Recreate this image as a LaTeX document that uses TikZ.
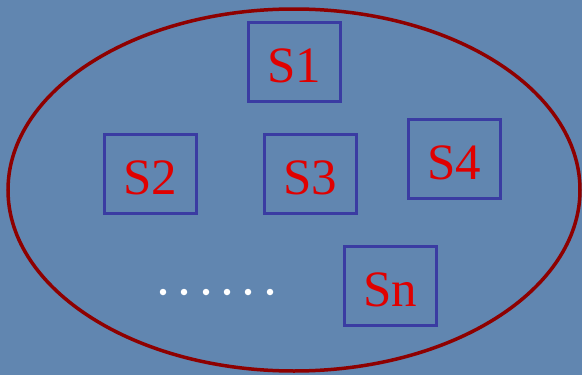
\documentclass[tikz,border=0pt]{standalone}
\usepackage{fontspec}
\setmainfont{Liberation Serif}
\definecolor{bg}{HTML}{6186B0}
\definecolor{boxc}{HTML}{3A3CA2}
\definecolor{txt}{HTML}{E00000}
\definecolor{ell}{HTML}{8E0000}
\tikzset{
  sbox/.style={draw=boxc, line width=3.8pt, minimum width=92pt, minimum height=79pt, inner sep=0pt,
    text height=40pt, text depth=0pt,
    text=txt, font=\fontsize{51}{51}\selectfont},
  dotc/.style={fill=white, draw=none, circle, inner sep=0pt, minimum size=6.5pt}
}
\begin{document}
\begin{tikzpicture}[x=1pt,y=-1pt]
\fill[bg] (0,0) rectangle (582,375);
\useasboundingbox (0,0) rectangle (582,375);
\draw[ell, line width=3.5pt] (294,190) ellipse [x radius=286, y radius=181];
\node[sbox] (s1) at (294.5,62) {S1};
\node[sbox] (s2) at (150.5,174) {S2};
\node[sbox] (s3) at (310.5,174) {S3};
\node[sbox] (s4) at (454.5,159) {S4};
\node[sbox] (sn) at (390.5,286) {Sn};
\foreach \i/\x in {1/163,2/184,3/206,4/227,5/248,6/270}
  \node[dotc] (d\i) at (\x,292) {};
\end{tikzpicture}
\end{document}
